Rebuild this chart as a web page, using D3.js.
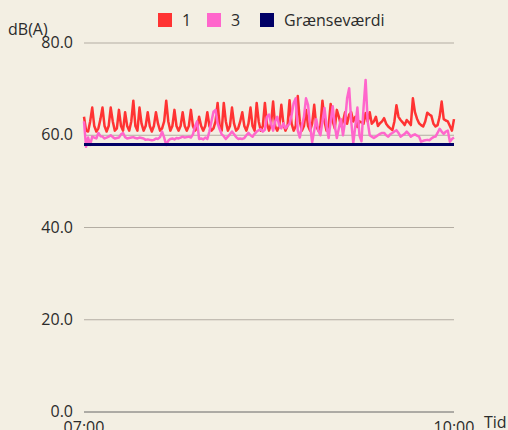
<!DOCTYPE html>
<html><head><meta charset="utf-8">
<script src="https://cdn.jsdelivr.net/npm/d3@7"></script>
<style>
html,body{margin:0;padding:0;background:#f3efe3;}
svg{display:block;}
svg text{font-family:"Open Sans",sans-serif;font-size:16px;fill:#2b2b2b;}
</style></head>
<body><svg id="c" width="508" height="430"></svg>
<script>
const seriesNames = ["1", "3", "Grænseværdi"];
const seriesColors = ["#ff3333", "#ff66cc", "#000066"];
const xTickLabels = ["07:00", "10:00"];
const yTicks = [0, 20, 40, 60, 80];
const series1 = [
64, 61, 60.8, 63, 66, 62, 60.8, 61.5, 63.5, 66,
62, 60.8, 62, 66, 63, 61, 61.5, 65.5, 62, 61,
65, 62, 61, 63, 67.5, 62, 61, 66, 62.5, 61,
62, 65, 62, 60.8, 62, 65, 62.5, 61, 61.5, 63,
67.5, 63, 61, 62, 65.5, 62, 61, 62, 65, 62,
61, 62, 65.5, 62, 61, 61.5, 64, 62, 61, 62,
65, 62, 61, 61.5, 63, 67, 62, 61, 67, 63,
61, 62, 66, 62.5, 61, 61.5, 63, 65, 62, 61,
62.5, 66, 62, 61, 67, 63, 61, 62, 67, 62.5,
61, 62.5, 67.3, 62, 61, 62, 66.6, 62.5, 61, 62,
67.6, 62.5, 61, 62, 68.5, 63, 61, 62, 65.5, 62,
61, 62.5, 66.6, 62, 61, 62, 67.5, 63, 61, 62,
66.8, 63, 61.5, 65.5, 64, 62, 63, 65, 62.5, 64.5,
65, 63, 64, 61.8, 63, 62.8, 62.5, 64.8, 63, 65,
62.5, 63, 64, 62, 62.6, 63, 63.7, 62.5, 61.9, 61.5,
61.1, 63, 66.5, 64, 63.3, 62.8, 62.2, 63.3, 62.8, 62.2,
68, 65, 63.6, 62.6, 62.2, 61.9, 63, 64.9, 64.5, 64.2,
62.5, 61.9, 62.2, 64, 67.3, 63.5, 63.2, 63, 62, 61, 63.5
];
const series3 = [
63, 57.5, 59.5, 57.9, 59.7, 59.5, 59.3, 60.5, 59.8, 59.7,
59.3, 59.5, 59.7, 60, 59.6, 59.3, 59.4, 59.5, 60.2, 60.5,
59.6, 59.3, 59.4, 59.5, 59.6, 59.4, 59.3, 59.5, 59.4, 59.3,
59, 59.1, 59, 58.9, 59, 59.3, 59.2, 59.6, 60.8, 59.5,
57.9, 58.8, 59.2, 59.3, 59.1, 59.4, 59.3, 59.5, 59.7, 59.5,
59.6, 59.7, 59.5, 60.2, 61.9, 63, 59.2, 59.3, 59.1, 59.5,
59.2, 60.8, 63, 65.1, 65.5, 62.6, 61.3, 60.2, 59.8, 59.2,
59.7, 60.2, 60.8, 60.2, 59.6, 59.2, 59.3, 59.2, 59.4, 60,
60.5, 60, 59.7, 60.3, 60.8, 61.1, 61.3, 60.8, 61.2, 64,
64.5, 62.5, 61, 63, 64, 62, 61.5, 62.6, 61.5, 62,
62.5, 64.4, 67, 68, 61, 59.5, 62, 64, 68, 66.6,
62, 58.5, 61, 63.5, 61, 60, 63, 65.9, 62, 59.4,
63, 66.3, 62, 59.4, 61.5, 63.5, 60, 63, 68, 70.2,
63, 58.3, 62, 66, 60, 58.7, 66, 72, 63, 60,
59.7, 59.4, 59.7, 60, 60.3, 60.5, 60.5, 60, 59.7, 60.2,
60.5, 60.8, 61.1, 60.5, 59.7, 60, 60.3, 60.8, 60.3, 59.7,
60, 60.2, 59.9, 59.7, 58.6, 58.8, 58.9, 59, 58.9, 59.3,
59.6, 59.7, 60.5, 61.4, 60.8, 60.3, 60.8, 61, 58.6, 59.2, 59.5
];
const limitValue = 58;

const svg = d3.select("#c");
const mLeft = 84, mRight = 454, mTop = 43, mBottom = 412;
const n = series1.length;
const x = d3.scaleLinear().domain([0, n - 1]).range([mLeft, mRight]);
const y = d3.scaleLinear().domain([0, 80]).range([mBottom, mTop]);

// grid
svg.append("g").selectAll("line").data(yTicks.filter(d => d > 0)).join("line")
  .attr("x1", mLeft).attr("x2", mRight)
  .attr("y1", d => y(d)).attr("y2", d => y(d))
  .attr("stroke", "#b3ada3").attr("stroke-width", 1);
svg.append("line").attr("x1", mLeft).attr("x2", mRight)
  .attr("y1", y(0)).attr("y2", y(0)).attr("stroke", "#666").attr("stroke-width", 1);

// y labels
svg.append("g").selectAll("text").data(yTicks).join("text")
  .attr("x", 73).attr("y", d => y(d) + 5)
  .attr("text-anchor", "end")
  .text(d => d.toFixed(1));
svg.append("text").attr("x", 8).attr("y", 35).text("dB(A)");

// x labels
svg.append("g").selectAll("text").data(xTickLabels).join("text")
  .attr("x", (d, i) => i === 0 ? x(0) : x(n - 1))
  .attr("y", 433).attr("text-anchor", "middle")
  .text(d => d);
svg.append("text").attr("x", 484).attr("y", 428).text("Tid");

// lines
const line = d3.line().x((d, i) => x(i)).y(d => y(d));
[series1, series3].forEach((s, k) => {
  svg.append("path").datum(s).attr("d", line)
    .attr("fill", "none").attr("stroke", seriesColors[k]).attr("stroke-width", 2.5)
    .attr("stroke-linejoin", "round");
});
svg.append("line").attr("x1", x(0)).attr("x2", x(n - 1))
  .attr("y1", y(limitValue)).attr("y2", y(limitValue))
  .attr("stroke", seriesColors[2]).attr("stroke-width", 3);

// legend
const legX = [158, 207, 260];
const lg = svg.append("g");
seriesNames.forEach((name, i) => {
  lg.append("rect").attr("x", legX[i]).attr("y", 13).attr("width", 14).attr("height", 14)
    .attr("fill", seriesColors[i]);
  lg.append("text").attr("x", legX[i] + 24).attr("y", 26).text(name);
});
</script></body></html>
